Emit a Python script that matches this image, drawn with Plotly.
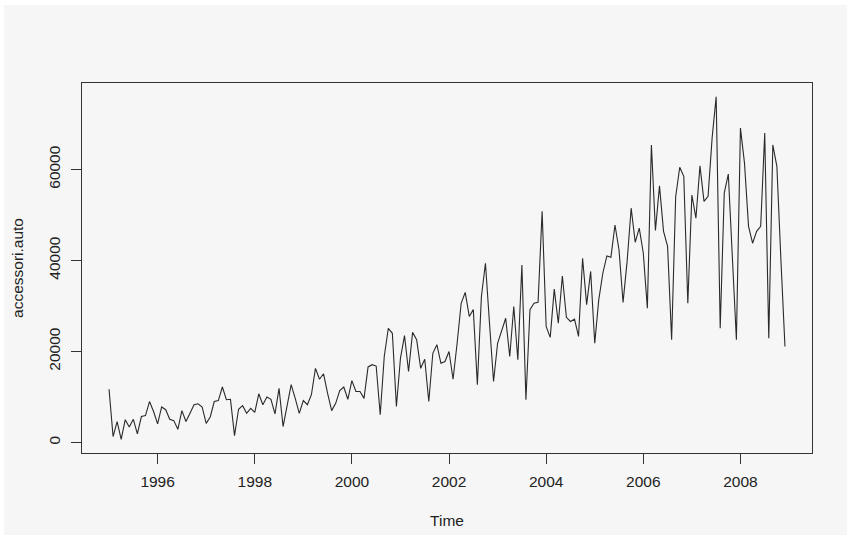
import plotly.graph_objects as go

# Monthly values, Jan..Dec
y1995 = [11700, 1300, 4600, 700, 5000, 3400, 5100, 1900, 5700, 5900, 9000, 6800]
y1996 = [4100, 7800, 7200, 5100, 4800, 2900, 7000, 4600, 6400, 8300, 8500, 7800]
y1997 = [4200, 5600, 9000, 9200, 12200, 9400, 9500, 1500, 7300, 8100, 6400, 7500]
y1998 = [6600, 10700, 8300, 10000, 9500, 6300, 11900, 3500, 8100, 12700, 9700, 6400]
y1999 = [9200, 8300, 10500, 16300, 13900, 15100, 10800, 7000, 8600, 11400, 12200, 9500]
y2000 = [13600, 11200, 11200, 9700, 16600, 17100, 16800, 6100, 18900, 25100, 24000, 7900]
y2001 = [18500, 23500, 15600, 24200, 22600, 16300, 18300, 9000, 19600, 21500, 17400, 17800]
y2002 = [20000, 13900, 21800, 30600, 33000, 27700, 29200, 12700, 32100, 39400, 26200, 13400]
y2003 = [21800, 24800, 27300, 18900, 29900, 18200, 39000, 9400, 29200, 30600, 30800, 50800]
y2004 = [25500, 23100, 33700, 26200, 36600, 27500, 26600, 27100, 23300, 40500, 30300, 37600]
y2005 = [21800, 31400, 37200, 41000, 40700, 47800, 42300, 30800, 39800, 51500, 44000, 47100]
y2006 = [41600, 29500, 65400, 46600, 56400, 46400, 43100, 22600, 54000, 60500, 58500, 30600]
y2007 = [54400, 49300, 60800, 53000, 54100, 66900, 76000, 25100, 54800, 59000, 40000, 22600]
y2008 = [69100, 61400, 47500, 43800, 46400, 47500, 68000, 22900, 65400, 60700, 40100, 21100]

start_year = 1995
series = [y1995, y1996, y1997, y1998, y1999, y2000, y2001,
          y2002, y2003, y2004, y2005, y2006, y2007, y2008]

x_tick_vals = [1996, 1998, 2000, 2002, 2004, 2006, 2008]
y_tick_vals = [0, 20000, 40000, 60000]

values = [v for yr in series for v in yr]
times = [start_year + k / 12 for k in range(len(values))]

# R-style 4% axis extension
tmin, tmax = min(times), max(times)
vmin, vmax = min(values), max(values)
tpad = 0.04 * (tmax - tmin)
vpad = 0.04 * (vmax - vmin)

W, H = 847, 535
ML, MR, MT, MB = 82, 35, 83, 82
pw, ph = W - ML - MR, H - MT - MB

bg = "#f6f6f6"
font = dict(family="Liberation Sans, Arial, sans-serif", size=15.5, color="#222")

fig = go.Figure()
fig.add_trace(go.Scatter(x=times, y=values, mode="lines",
                         line=dict(color="#2a2a2a", width=1.1),
                         hoverinfo="skip", showlegend=False))

# thin white strips at the left and top edges of the screenshot
fig.add_shape(type="rect", xref="paper", yref="paper", layer="below",
              x0=-ML / pw, x1=-(ML - 4) / pw, y0=-MB / ph, y1=1 + MT / ph,
              fillcolor="#ffffff", line_width=0)
fig.add_shape(type="rect", xref="paper", yref="paper", layer="below",
              x0=-ML / pw, x1=1 + MR / pw, y0=1 + (MT - 5) / ph, y1=1 + MT / ph,
              fillcolor="#ffffff", line_width=0)

fig.update_layout(
    width=W, height=H,
    paper_bgcolor=bg, plot_bgcolor=bg,
    margin=dict(l=ML, r=MR, t=MT, b=MB, autoexpand=False),
    font=font,
    showlegend=False,
)
fig.update_xaxes(
    range=[tmin - tpad, tmax + tpad],
    tickvals=x_tick_vals, ticktext=[str(v) for v in x_tick_vals],
    ticks="outside", ticklen=10, tickwidth=1, tickcolor="#333",
    ticklabelstandoff=4, automargin=False,
    showline=True, linecolor="#333", linewidth=1, mirror=True,
    showgrid=False, zeroline=False,
    title=dict(text="Time", standoff=26, font=font),
)
fig.update_yaxes(
    range=[vmin - vpad, vmax + vpad],
    tickvals=y_tick_vals, ticktext=[str(v) for v in y_tick_vals],
    tickangle=-90,
    ticks="outside", ticklen=10, tickwidth=1, tickcolor="#333",
    ticklabelstandoff=5, automargin=False,
    showline=True, linecolor="#333", linewidth=1, mirror=True,
    showgrid=False, zeroline=False,
    title=dict(text="accessori.auto", standoff=18, font=font),
)

fig.write_html(
    "out.html",
    config={"displayModeBar": False},
    post_script="document.body.style.margin='0';"
                "document.body.style.overflow='hidden';",
)
